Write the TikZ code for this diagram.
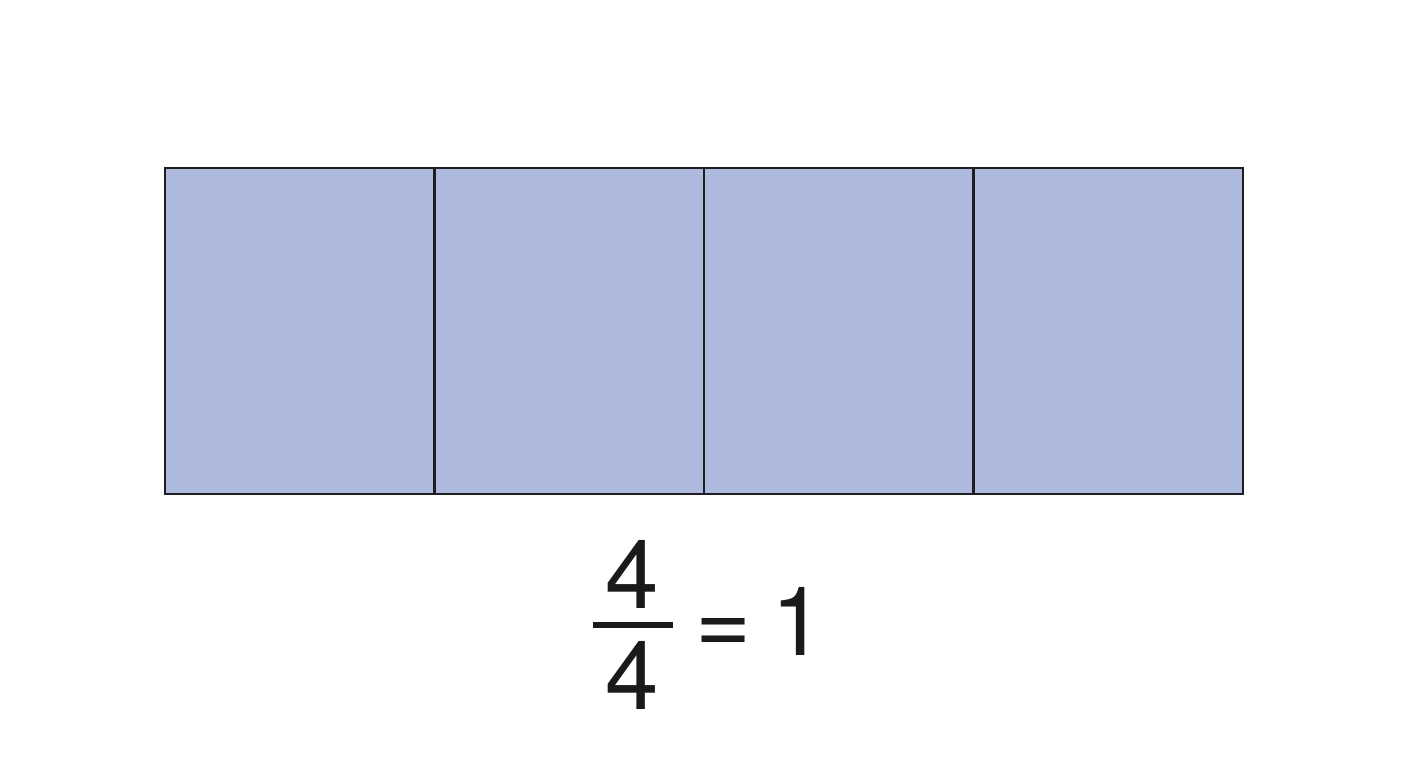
\documentclass[tikz,border=0pt]{standalone}
\usepackage{fontspec}
\setmainfont{TeX Gyre Heros}
\definecolor{cellblue}{HTML}{ADBADE}
\definecolor{edge}{HTML}{1E1E1E}
\definecolor{digit}{HTML}{1A1A1A}
\begin{document}
\begin{tikzpicture}[x=1pt,y=1pt,
  cell/.style={draw=edge,line width=1.6pt,fill=cellblue,minimum width=269pt,minimum height=326pt,inner sep=0pt,outer sep=0pt},
  bigdigit/.style={inner sep=0pt,outer sep=0pt,text=digit,font=\fontsize{96}{100}\selectfont,anchor=base}]
\useasboundingbox[fill=white] (0,0) rectangle (1408,768);
\node[cell] (c1) at (299.75,437) {};
\node[cell] (c2) at (569.25,437) {};
\node[cell] (c3) at (838.75,437) {};
\node[cell] (c4) at (1108.25,437) {};
\node[bigdigit] (num) at (632,159) {4};
\node[bigdigit] (den) at (632,58) {4};
\coordinate (barL) at (593,143);
\coordinate (barR) at (673,143);
\draw[digit,line width=6pt] (barL) -- (barR);
\node[bigdigit] (eq) at (723.5,113) {=};
\node[bigdigit] (one) at (798,112) {1};
\end{tikzpicture}
\end{document}
